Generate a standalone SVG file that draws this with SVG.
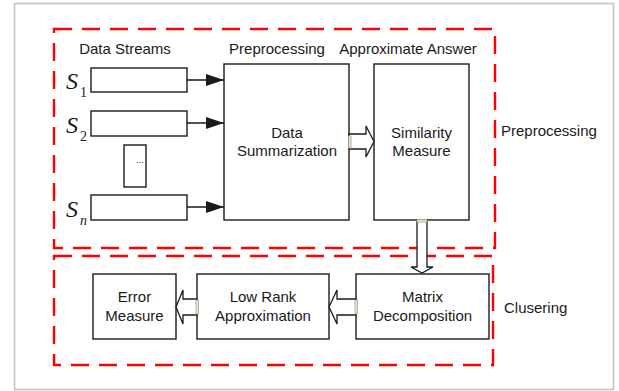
<svg xmlns="http://www.w3.org/2000/svg" width="619" height="391" viewBox="0 0 619 391">
  <style>
    .frame { fill: #ffffff; stroke: #c4c4c4; stroke-width: 1.6; }
    .zone { fill: none; stroke: #ff0000; stroke-width: 2.4; stroke-dasharray: 18 10; }
    .box { fill: #ffffff; stroke: #1a1a1a; stroke-width: 1.4; }
    .lbl { font-family: "Liberation Sans", Arial, sans-serif; font-size: 15px; fill: #1a1a1a; }
    .mid { text-anchor: middle; }
    .sym { font-family: "Liberation Serif", "Times New Roman", serif; font-style: italic; font-size: 24px; fill: #1a1a1a; }
    .sub { font-family: "Liberation Serif", "Times New Roman", serif; font-size: 14px; fill: #1a1a1a; }
    .subi { font-family: "Liberation Serif", "Times New Roman", serif; font-style: italic; font-size: 14px; fill: #1a1a1a; }
    .wire { stroke: #1a1a1a; stroke-width: 1.4; fill: none; }
    .hollow { fill: #ffffff; stroke: #1a1a1a; stroke-width: 1.3; stroke-linejoin: miter; }
    .glue { fill: #e2e5d2; stroke: #a6aa94; stroke-width: 0.8; }
  </style>
  <defs>
    <marker id="solidHead" viewBox="0 0 18 12" refX="18" refY="6" markerWidth="18" markerHeight="12" markerUnits="userSpaceOnUse" orient="auto">
      <path d="M0,0 L18,6 L0,12 Z" fill="#1a1a1a"/>
    </marker>
  </defs>

  <!-- outer frame -->
  <rect class="frame" x="14.5" y="3.5" width="599" height="386"/>

  <!-- dashed stage regions -->
  <g id="zone-preprocessing">
    <rect class="zone" x="54" y="29" width="441" height="219"/>
    <text class="lbl" x="501" y="136">Preprocessing</text>
  </g>
  <g id="zone-clustering">
    <rect class="zone" x="54" y="256" width="439" height="109"/>
    <text class="lbl" x="504" y="313">Clusering</text>
  </g>

  <!-- column headings -->
  <text class="lbl mid" x="125" y="54">Data Streams</text>
  <text class="lbl mid" x="277" y="54">Preprocessing</text>
  <text class="lbl mid" x="408" y="54">Approximate Answer</text>

  <!-- input streams -->
  <g id="stream-1">
    <rect class="box" x="91" y="68" width="96" height="24"/>
    <text class="sym" x="66" y="89">S</text>
    <text class="sub" x="80" y="97">1</text>
  </g>
  <g id="stream-2">
    <rect class="box" x="91" y="111" width="96" height="25"/>
    <text class="sym" x="66" y="133">S</text>
    <text class="sub" x="80" y="141">2</text>
  </g>
  <g id="stream-ellipsis">
    <rect class="box" x="124" y="145" width="22" height="42"/>
    <text class="lbl" x="136" y="163" style="font-size:9px">...</text>
  </g>
  <g id="stream-n">
    <rect class="box" x="91" y="195" width="96" height="25"/>
    <text class="sym" x="66" y="217">S</text>
    <text class="subi" x="80" y="225">n</text>
  </g>

  <!-- processing stages -->
  <g id="data-summarization">
    <rect class="box" x="224" y="64" width="125" height="156"/>
    <text class="lbl mid" x="287" y="138">Data</text>
    <text class="lbl mid" x="287" y="156">Summarization</text>
  </g>
  <g id="similarity-measure">
    <rect class="box" x="374" y="64" width="95" height="156"/>
    <text class="lbl mid" x="421.5" y="138">Similarity</text>
    <text class="lbl mid" x="421.5" y="156">Measure</text>
  </g>
  <g id="matrix-decomposition">
    <rect class="box" x="356" y="274" width="133" height="65"/>
    <text class="lbl mid" x="422.5" y="302">Matrix</text>
    <text class="lbl mid" x="422.5" y="321">Decomposition</text>
  </g>
  <g id="low-rank-approximation">
    <rect class="box" x="197" y="274" width="132" height="65"/>
    <text class="lbl mid" x="263" y="302">Low Rank</text>
    <text class="lbl mid" x="263" y="321">Approximation</text>
  </g>
  <g id="error-measure">
    <rect class="box" x="93" y="274" width="83" height="65"/>
    <text class="lbl mid" x="134.5" y="302">Error</text>
    <text class="lbl mid" x="134.5" y="321">Measure</text>
  </g>

  <!-- connectors -->
  <g id="connectors">
    <line class="wire" x1="187" y1="80" x2="224" y2="80" marker-end="url(#solidHead)"/>
    <line class="wire" x1="187" y1="123" x2="224" y2="123" marker-end="url(#solidHead)"/>
    <line class="wire" x1="187" y1="207" x2="224" y2="207" marker-end="url(#solidHead)"/>

    <!-- summarization to similarity -->
    <polygon class="hollow" points="349,134 366,134 366,126 374,141.5 366,157 366,149 349,149"/>
    <rect class="glue" x="348.5" y="136" width="2.5" height="12"/>

    <!-- similarity down to decomposition -->
    <polygon class="hollow" points="417,220 427,220 427,267 433,267 422,273 411,267 417,267"/>
    <rect class="glue" x="417" y="219.5" width="10" height="2.5"/>

    <!-- decomposition to low rank -->
    <polygon class="hollow" points="356,299 337,299 337,290 329,307 337,324 337,315 356,315"/>
    <rect class="glue" x="355" y="300" width="2.5" height="14"/>

    <!-- low rank to error -->
    <polygon class="hollow" points="197,299 183,299 183,290 176,307 183,324 183,315 197,315"/>
    <rect class="glue" x="196" y="300" width="2.5" height="14"/>
  </g>
</svg>
